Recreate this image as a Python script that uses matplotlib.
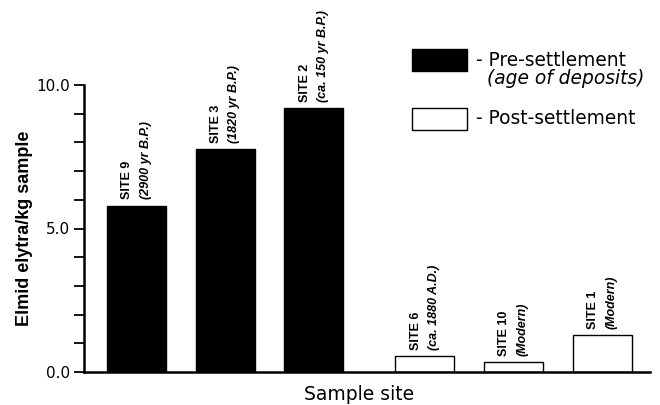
import matplotlib
matplotlib.use("Agg")
import matplotlib.pyplot as plt
from matplotlib.patches import Rectangle
from matplotlib.ticker import MultipleLocator

# ---- data ----
sites = ["SITE 9", "SITE 3", "SITE 2", "SITE 6", "SITE 10", "SITE 1"]
ages = ["(2900 yr B.P.)", "(1820 yr B.P.)", "(ca. 150 yr B.P.)",
        "(ca. 1880 A.D.)", "(Modern)", "(Modern)"]
values = [5.80, 7.76, 9.20, 0.56, 0.35, 1.29]
period = ["pre", "pre", "pre", "post", "post", "post"]
yticks = [0.0, 5.0, 10.0]
ytick_labels = ["0.0", "5.0", "10.0"]

plt.rcParams['font.family'] = ['Liberation Sans', 'DejaVu Sans']
WIDE = ['DejaVu Sans']
NARROW = ['Liberation Sans Narrow', 'Liberation Sans']

fig = plt.figure(figsize=(6.6, 4.05), dpi=100)
ax = fig.add_axes([84/660, 1-372/405, (650-84)/660, (372-85)/405])

# layout positions (gap between pre- and post-settlement groups)
xpos = []
for i, p in enumerate(period):
    xpos.append(i + (0.25 if p == "post" else 0.0))

colors = ["black" if p == "pre" else "white" for p in period]
ax.bar(xpos, values, width=0.665, color=colors, edgecolor="black", linewidth=1.0)

for x, v, s, a in zip(xpos, values, sites, ages):
    ax.annotate(s, xy=(x, v), xytext=(-6.5, 4.5), textcoords="offset points",
                rotation=90, ha="center", va="bottom", fontsize=9,
                fontweight="bold", family=NARROW)
    ax.annotate(a, xy=(x, v), xytext=(6.5, 4.5), textcoords="offset points",
                rotation=90, ha="center", va="bottom", fontsize=9,
                fontweight="bold", fontstyle="italic", family=NARROW)

ax.set_xlim(-0.592, 5.79)
ax.set_ylim(0, 10)
ax.set_yticks(yticks)
ax.set_yticklabels(ytick_labels, fontsize=11, family=WIDE)
ax.yaxis.set_minor_locator(MultipleLocator(1.0))
ax.tick_params(axis="y", which="both", direction="out", length=7, width=1.3, pad=3)
ax.set_xticks([])
for sp in ["top", "right"]:
    ax.spines[sp].set_visible(False)
ax.spines["left"].set_linewidth(1.8)
ax.spines["bottom"].set_linewidth(1.8)

ax.set_ylabel("Elmid elytra/kg sample", fontsize=13, fontweight="bold")
ax.yaxis.set_label_coords(-(84-25)/566, 0.5)
ax.set_xlabel("Sample site", fontsize=13.5, family=WIDE)
ax.xaxis.set_label_coords((359-84)/566, -(395-372)/287)
ax.xaxis.label.set_va("center")
ax.yaxis.label.set_va("center")

# legend (manual)
fig.patches.append(Rectangle((412/660, 1-71/405), 55/660, 22/405,
                             transform=fig.transFigure, facecolor="black",
                             edgecolor="black", linewidth=1))
fig.patches.append(Rectangle((412/660, 1-130/405), 55/660, 22/405,
                             transform=fig.transFigure, facecolor="white",
                             edgecolor="black", linewidth=1))
fig.text(476/660, 1-60/405, "- Pre-settlement", fontsize=13.4, va="center",
         ha="left", family=WIDE)
fig.text(487/660, 1-79/405, "(age of deposits)", fontsize=13.4, va="center",
         ha="left", fontstyle="italic", family=WIDE)
fig.text(476/660, 1-119/405, "- Post-settlement", fontsize=13.4, va="center",
         ha="left", family=WIDE)

fig.savefig("out.png", dpi=100)
